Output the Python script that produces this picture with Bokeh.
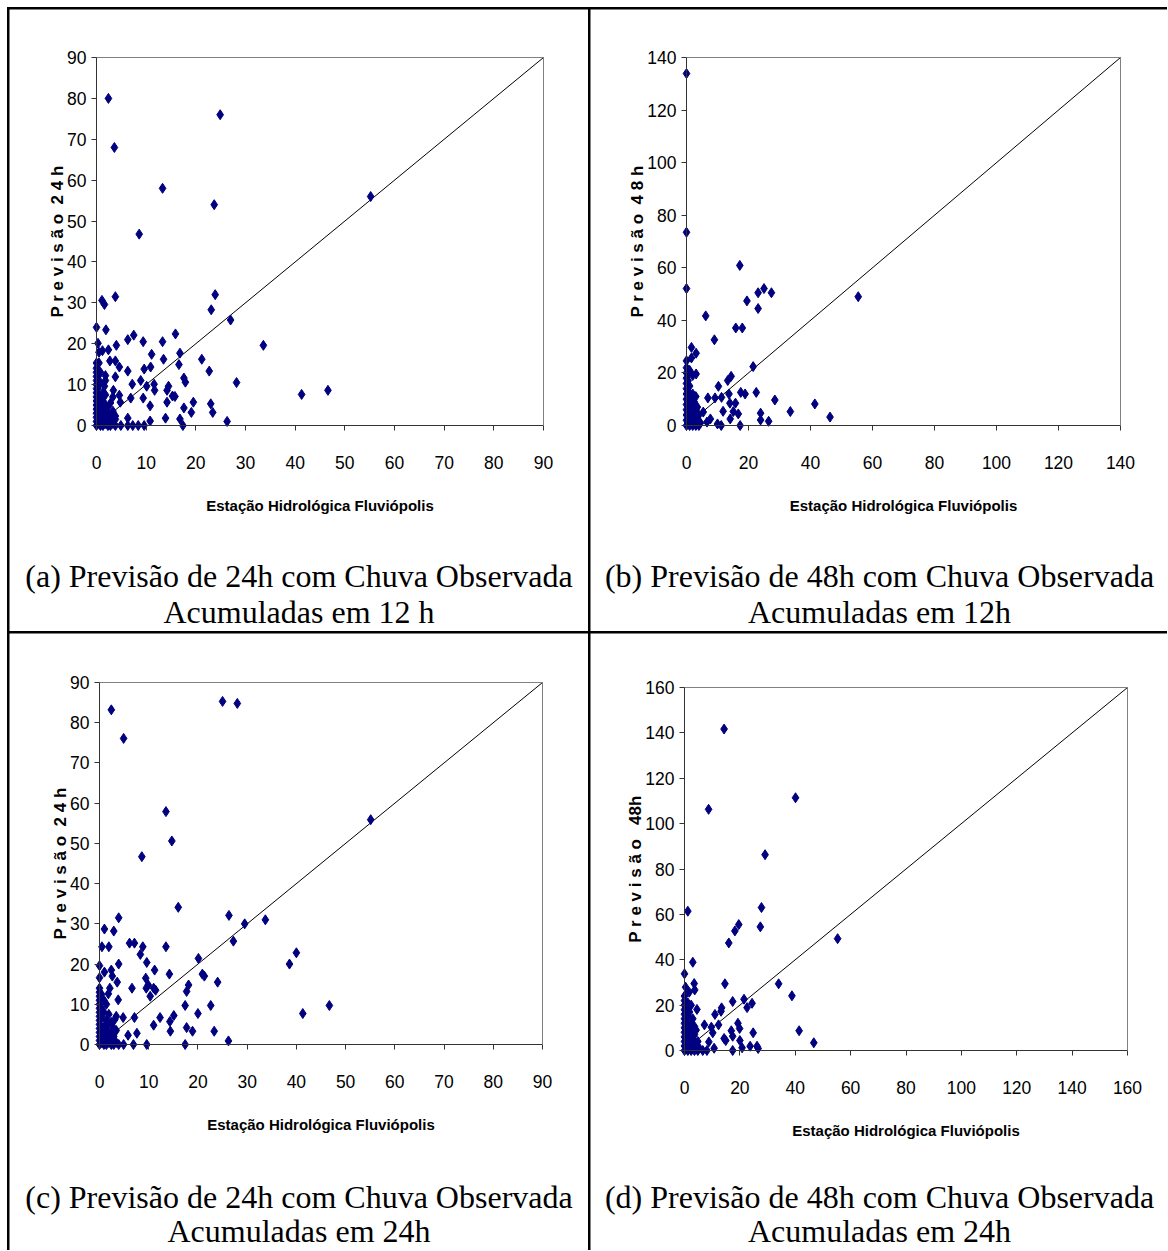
from bokeh.plotting import figure
from bokeh.layouts import row, column
from bokeh.models import Range1d, FixedTicker, Label, LinearAxis
from bokeh.embed import file_html
from bokeh.resources import INLINE

# ---------------- data ----------------
# (a) Previsão 24h x chuva observada acumulada em 12 h
a_obs = [2.4, 24.9, 3.6, 13.3, 23.7, 55.2, 8.6, 23.9, 3.8, 1.1, 1.6, 23.1, 27.0, 0, 1.9, 7.5, 15.9, 6.3, 9.4, 13.3,
         0.3, 33.6, 4.0, 2.4, 1.2, 0.5, 11.1, 16.8, 13.5, 21.2, 2.7, 3.8, 0.5, 0, 16.6, 4.6, 10.9, 9.6, 6.3, 22.7,
         1.8, 3.8, 17.6, 17.9, 8.9, 28.2, 7.2, 11.6, 10.1, 14.5, 14.2, 11.7, 1.6, 46.6, 41.3, 3.4, 4.6, 15.3, 15.8, 9.4,
         6.9, 4.8, 14.2, 19.5, 23.0, 10.8, 17.6, 19.1, 23.4, 3.8, 13.9, 6.3, 16.8, 10.8, 26.3, 4.9, 6.3, 7.3, 8.4, 9.6,
         17.4,
         0, 0, 0, 0, 0, 0, 0, 0, 0, 0, 0, 0, 0, 0, 0,
         0.3, 0.3, 0.3, 0.3, 0.3, 0.8, 0.8, 0.8, 0.8, 0.8, 0.8, 1.3, 1.3, 1.3, 1.3, 1.3,
         1.8, 1.8, 1.8, 1.8, 1.8, 2.3, 2.3, 2.3, 2.3, 2.8, 2.8, 2.8, 3.3, 3.3, 3.3, 3.8, 3.8]
a_prev = [80, 76, 68, 58, 54, 56, 46.8, 32, 31.5, 30.6, 29.6, 28.3, 25.8, 24, 23.4, 22.1, 22.4, 21, 20.5, 20.5,
          20.1, 19.6, 19.6, 18.5, 18.3, 17.9, 17.4, 17.7, 16.2, 16.2, 15.8, 15.8, 15.3, 15.3, 14.9, 14.3, 14.3, 13.8, 13.3, 13.3,
          12.2, 11.9, 11.6, 10.6, 11.0, 10.5, 10.1, 10.1, 9.6, 9.6, 8.6, 8.6, 9.6, 8.6, 7.6, 8.6, 7.4, 7.2, 7.1, 6.7,
          6.7, 5.7, 5.7, 5.7, 5.3, 4.8, 4.3, 3.2, 3.2, 2.3, 1.8, 1.8, 1.6, 1.1, 1.0, 0, 0, 0, 0, 0,
          0,
          0, 1, 2, 3, 4, 5, 6, 7, 8, 9, 10, 11, 12, 13, 14,
          0.5, 3, 6, 9, 12, 0, 2, 4.5, 7, 10.5, 13, 0, 1.5, 3.5, 6, 8,
          0.5, 2.5, 5, 7.5, 11, 0, 1, 3, 4.5, 0, 2, 5.5, 0.5, 3.5, 7, 0, 1.5]

# (b) Previsão 48h x chuva observada acumulada em 12h
b_obs = [0, 0, 0, 17.2, 25.0, 23.1, 27.4, 19.5, 23.1, 55.4, 6.2, 15.9, 18.0, 9.0, 1.6, 3.1, 1.6, 0, 21.5, 0.8,
         3.1, 14.4, 13.3, 10.3, 17.5, 18.9, 22.5, 13.7, 11.3, 6.9, 9.2, 28.5, 41.4, 14.0, 15.8, 11.8, 33.5, 15.1, 16.7, 23.9,
         46.3, 14.1, 23.9, 26.5, 10.0, 11.2, 17.3, 6.6, 7.7, 5.4, 3.1,
         0, 0, 0, 0, 0, 0, 0, 0, 0, 0, 0, 0,
         0.5, 0.5, 0.5, 0.5, 0.5, 1, 1, 1, 1, 1, 1, 1.5, 1.5, 1.5, 2, 2, 2, 2, 2,
         2.5, 2.5, 2.5, 3, 3, 3, 3.5, 3.5, 4, 4, 4.5]
b_prev = [133.9, 73.5, 52.1, 60.9, 52.1, 50.5, 50.5, 47.4, 44.5, 49.0, 41.7, 37.1, 37.1, 32.6, 29.7, 27.5, 25.7, 24.6, 22.4, 20.2,
          19.6, 18.7, 17.1, 14.9, 12.6, 12.0, 12.6, 12.0, 10.7, 10.5, 10.5, 9.7, 8.2, 8.5, 8.5, 5.4, 5.3, 5.3, 4.4, 4.7,
          3.2, 2.5, 2.1, 1.6, 0.6, 0, 0, 1.3, 2.5, 5.1, 6.3,
          0, 2, 4, 6, 8, 10, 12, 14, 16, 18, 20, 22,
          1, 5, 9, 13, 17, 0, 3, 7, 11, 15, 21, 2, 6, 10, 0, 4, 8, 12, 19,
          1, 5, 9, 0, 3, 11, 2, 7, 0, 4, 1]

# (c) Previsão 24h x chuva observada acumulada em 24h
c_obs = [25.0, 28.0, 2.4, 4.9, 13.5, 14.7, 8.6, 55.1, 16.0, 26.3, 3.9, 33.7, 29.5, 1.0, 2.9, 27.2, 6.1, 7.1, 0.5, 1.9,
         13.5, 8.8, 8.3, 40.0, 20.1, 9.6, 3.9, 38.6, 0, 11.2, 2.4, 1.0, 14.2, 20.9, 21.3, 9.4, 2.6, 0, 24.0, 3.6,
         18.1, 9.9, 11.0, 11.4, 9.5, 6.6, 2.1, 17.7, 10.3, 3.8, 1.8, 17.4, 22.6, 46.7, 20.0, 41.3, 15.1, 12.3, 7.1, 4.8,
         11.0, 14.3, 17.7, 3.1, 14.4, 18.9, 23.3, 7.6, 5.8, 26.2, 4.9, 6.9, 9.6, 17.4,
         0, 0, 0, 0, 0, 0, 0, 0, 0, 0, 0, 0, 0, 0, 0,
         0.4, 0.4, 0.4, 0.4, 0.4, 0.9, 0.9, 0.9, 0.9, 0.9, 1.4, 1.4, 1.4, 1.4, 1.4,
         1.9, 1.9, 1.9, 1.9, 2.4, 2.4, 2.4, 2.4, 2.9, 2.9, 2.9, 3.4, 3.4, 3.4, 3.9]
c_prev = [85.3, 84.8, 83.2, 76.1, 57.9, 50.6, 46.7, 55.9, 34.1, 32.1, 31.5, 31.0, 30.0, 28.7, 28.2, 25.7, 25.2, 25.2, 24.3, 24.3,
          24.3, 24.3, 22.4, 22.8, 21.4, 20.4, 20.0, 20.0, 19.6, 18.5, 18.5, 18.0, 17.5, 17.5, 17.0, 16.5, 17.0, 16.6, 15.5, 15.5,
          14.8, 14.8, 14.0, 13.5, 14.0, 14.0, 14.0, 13.2, 12.0, 11.1, 12.6, 9.7, 9.7, 9.7, 7.7, 7.7, 7.2, 6.7, 6.7, 6.7,
          4.8, 5.7, 4.2, 6.2, 3.3, 3.3, 3.3, 2.8, 2.3, 0.9, 0, 0, 0, 0,
          0, 1, 2, 3, 4, 5, 6, 7, 8, 9, 10, 11, 12, 13, 14,
          0.5, 3, 6.5, 9, 12.5, 0, 2, 4.5, 8, 11, 0, 1.5, 3.5, 6, 10,
          0.5, 2.5, 5, 7.5, 0, 1, 3, 5.5, 0, 2, 4, 0.5, 3.5, 7, 0]

# (d) Previsão 48h x chuva observada acumulada em 24h
d_obs = [14.3, 40.1, 8.7, 29.1, 27.8, 27.4, 19.6, 18.2, 16.0, 55.3, 1.2, 3.0, 0, 3.5, 3.7, 14.6, 34.0, 38.8, 0.4, 1.7,
         17.4, 21.5, 24.4, 22.6, 13.4, 13.2, 4.5, 11.0, 7.2, 12.3, 19.3, 19.9, 41.4, 16.9, 9.7, 10.2, 24.8, 3.6, 14.3, 14.9,
         17.4, 8.8, 20.0, 46.7, 23.7, 26.2, 26.6, 20.8, 10.7, 17.4, 6.6, 8.1,
         0, 0, 0, 0, 0, 0, 0, 0, 0, 0, 0, 0, 0,
         0.6, 0.6, 0.6, 0.6, 0.6, 1.2, 1.2, 1.2, 1.2, 1.2, 1.2, 1.8, 1.8, 1.8, 1.8,
         2.4, 2.4, 2.4, 2.4, 2.4, 3, 3, 3, 3.6, 3.6, 3.6, 4.2, 4.2, 4.8, 4.8, 5.4]
d_prev = [141.7, 111.4, 106.3, 86.3, 63.0, 54.5, 55.5, 52.7, 47.4, 49.3, 61.4, 38.9, 33.8, 29.5, 26.7, 29.4, 29.4, 24.1, 27.9, 25.7,
          21.6, 22.6, 20.8, 18.9, 18.8, 17.3, 18.1, 15.9, 11.3, 11.3, 12.0, 9.7, 8.7, 8.7, 10.3, 7.8, 7.8, 10.6, 5.3, 4.4,
          6.3, 3.8, 4.4, 3.4, 1.9, 1.9, 0.9, 1.2, 1.0, 0, 0, 0,
          0, 2, 4, 6, 8, 10, 12, 14, 16, 18, 20, 22, 24,
          1, 5, 9, 13, 19, 0, 3, 7, 11, 15, 21, 2, 6, 10, 17,
          0, 4, 8, 12, 20, 1, 5, 14, 0, 3, 7, 2, 9, 0, 4, 1]

# 1:1 reference lines
a_diag = [3, 90]
b_diag = [5, 140]
c_diag = [3, 90]
d_diag = [5, 160]

ticks_90 = [0, 10, 20, 30, 40, 50, 60, 70, 80, 90]
ticks_140 = [0, 20, 40, 60, 80, 100, 120, 140]
ticks_160 = [0, 20, 40, 60, 80, 100, 120, 140, 160]

x_title = "Estação Hidrológica Fluviópolis"
y_title_24 = "P r e v i s ã o\u00a0 2 4 h"
y_title_48 = "P r e v i s ã o\u00a0 4 8 h"
y_title_48d = "P r e v i s ã o\u00a0\u00a0 48h"

captions = [
    ("(a) Previsão de 24h com Chuva Observada", "Acumuladas em 12 h"),
    ("(b) Previsão de 48h com Chuva Observada", "Acumuladas em 12h"),
    ("(c) Previsão de 24h com Chuva Observada", "Acumuladas em 24h"),
    ("(d) Previsão de 48h com Chuva Observada", "Acumuladas em 24h"),
]

# ---------------- style ----------------
NAVY = "#000080"
SANS = "'Liberation Sans', Arial, sans-serif"
SERIF = "'Liberation Serif', 'Times New Roman', serif"


def panel(obs, prev, diag, ticks, ylabel, caps, cell, box, capx, cap_mid):
    # cell = (left, top, width, height) of the table cell; box = axis box (x0, x1, ytop, ybottom), page pixels
    cl, ct, cw, ch = cell
    x0, x1, yt, yb = box
    vmax = ticks[-1]
    kx = vmax / (x1 - x0)
    ky = vmax / (yb - yt)
    p = figure(width=cw, height=ch, output_backend="svg", toolbar_location=None,
               x_range=Range1d(-(x0 - cl) * kx, vmax + (cl + cw - x1) * kx),
               y_range=Range1d(-(ct + ch - yb) * ky, vmax + (yt - ct) * ky),
               min_border=0, x_axis_type=None, y_axis_type=None)
    p.outline_line_color = None
    p.background_fill_color = "white"
    p.border_fill_color = "white"

    p.line(diag, diag, line_color="black", line_width=1)
    p.scatter(obs, prev, marker="diamond", size=10, fill_color=NAVY, line_color=NAVY)

    xa = LinearAxis(fixed_location=0, bounds=(0, vmax), ticker=FixedTicker(ticks=ticks))
    ya = LinearAxis(fixed_location=0, bounds=(0, vmax), ticker=FixedTicker(ticks=ticks))
    for ax in (xa, ya):
        ax.axis_line_color = "#333333"
        ax.axis_line_width = 1
        ax.major_tick_line_color = "#333333"
        ax.major_tick_in = 0
        ax.major_tick_out = 5
        ax.minor_tick_line_color = None
        ax.major_label_text_font = SANS
        ax.major_label_text_font_size = "17.5px"
        ax.major_label_text_color = "black"
        ax.axis_label_text_color = "black"
        ax.axis_label_text_font_style = "bold"
        ax.axis_label_text_font = SANS
    xa.major_label_standoff = 25
    ya.major_label_standoff = 5
    xa.axis_label = x_title
    xa.axis_label_text_font_size = "15px"
    xa.axis_label_standoff = 25
    ya.axis_label = ylabel
    ya.axis_label_text_font_size = "17px"
    ya.axis_label_standoff = -3
    p.add_layout(xa, "below")
    p.add_layout(ya, "left")

    # grey top and right edges of the plot area
    for loc in ("above", "right"):
        edge = LinearAxis(fixed_location=vmax, bounds=(0, vmax), ticker=FixedTicker(ticks=[]),
                          axis_line_color="#808080", axis_line_width=1,
                          major_tick_line_color=None, minor_tick_line_color=None)
        p.add_layout(edge, loc)

    for txt, mid in zip(caps, cap_mid):
        p.add_layout(Label(x=capx - cl, y=(ct + ch) - mid, x_units="screen", y_units="screen",
                           text=txt, text_align="center", text_baseline="middle",
                           text_font=SERIF, text_font_size="32px", text_color="black"))
    return p


pa = panel(a_obs, a_prev, a_diag, ticks_90, y_title_24, captions[0],
           (9, 9, 579, 622), (96, 543, 57, 425), 298.5, (575, 611))
pb = panel(b_obs, b_prev, b_diag, ticks_140, y_title_48, captions[1],
           (590, 9, 577, 622), (686, 1120, 57, 425), 879, (575, 611))
pc = panel(c_obs, c_prev, c_diag, ticks_90, y_title_24, captions[2],
           (9, 633, 579, 617), (99, 542, 682, 1044), 298.5, (1196, 1230))
pd_ = panel(d_obs, d_prev, d_diag, ticks_160, y_title_48d, captions[3],
            (590, 633, 577, 617), (684, 1127, 687, 1050), 879, (1196, 1230))

top = row(pa, pb, spacing=2)
bottom = row(pc, pd_, spacing=2)
layout = column(top, bottom, spacing=2,
                styles={"background-color": "black", "padding-left": "2px", "padding-top": "2px",
                        "margin-left": "7px", "margin-top": "7px"})

open("out.html", "w").write(file_html(layout, INLINE))
